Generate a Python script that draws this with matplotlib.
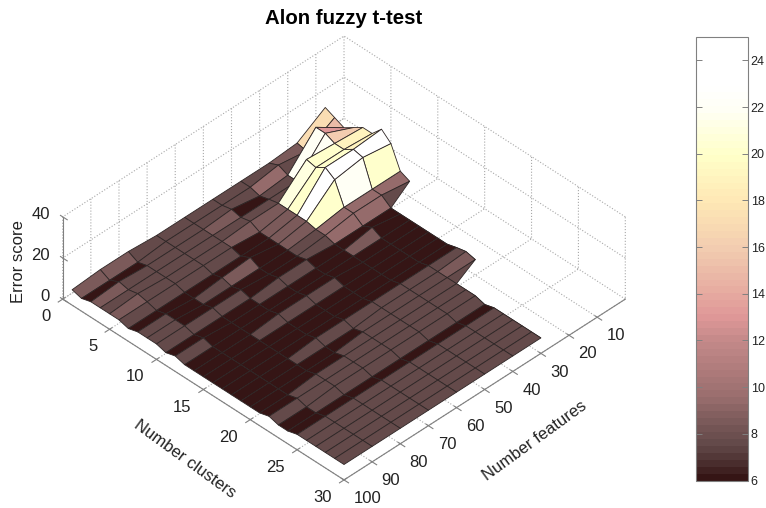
import numpy as np
import matplotlib
matplotlib.use("Agg")
import matplotlib.pyplot as plt
from matplotlib.colors import LinearSegmentedColormap, Normalize
from matplotlib.cm import ScalarMappable
from mpl_toolkits.mplot3d import proj3d

plt.rcParams["font.family"] = ["Liberation Sans", "DejaVu Sans"]
plt.rcParams["grid.linestyle"] = ":"
plt.rcParams["grid.color"] = "#a8a8a8"
plt.rcParams["grid.linewidth"] = 0.8

nan = np.nan
a, b, d, e = 6.2, 7.5, 8.5, 9.5  # the four low levels seen on the surface

clusters = np.arange(1, 31)
features = np.arange(10, 101, 10)

# error score per number of clusters, one list per number of features
err_f10 = [17, 15, 13, 16, 19, 19, 24, 20, e, b] + [nan] * 20
err_f20 = [d, b, 22, 22, 20, 20, 23, 22, e, e, a, a, a, a, a, a, a, b, d, b] + [nan] * 10
err_f30 = [b, e, b, b, 21, 20, 23, 20, e, e, a, d, a, a, a, a, a, b, b, b, b, b, b, a, b, b, b, b, b, b]
err_f40 = [b, b, a, b, d, d, d, d, b, b, a, a, a, a, a, a, a, b, b, b, b, b, b, a, b, b, b, b, b, b]
err_f50 = [b, b, d, b, d, a, a, a, a, a, b, a, a, b, a, a, a, b, b, b, b, b, b, a, b, b, b, b, b, b]
err_f60 = [b, b, b, b, b, b, a, d, a, a, b, a, a, b, a, a, a, b, a, b, b, b, b, a, b, b, b, b, b, b]
err_f70 = [b, b, b, b, b, b, a, b, a, b, a, a, a, b, a, a, a, b, a, a, b, b, b, a, b, b, b, b, b, b]
err_f80 = [d, a, b, b, b, b, a, a, a, b, a, a, a, a, a, a, a, a, a, a, b, b, b, a, b, b, b, b, b, b]
err_f90 = [d, a, d, b, d, b, a, b, b, b, a, b, a, a, a, a, a, a, a, a, a, b, a, a, b, b, b, b, b, b]
err_f100 = [b, a, b, b, b, b, a, b, b, b, a, b, a, a, a, a, a, a, a, a, a, b, a, a, b, b, b, b, b, b]

x_ticks = [0, 5, 10, 15, 20, 25, 30]
y_ticks = [10, 20, 30, 40, 50, 60, 70, 80, 90, 100]
z_ticks = [0, 20, 40]
cbar_ticks = [6, 8, 10, 12, 14, 16, 18, 20, 22, 24]

stop_values = [6, 7, 7.5, 8.5, 9.5, 12, 13, 14, 16, 18, 20, 22, 23, 25]
stop_colors = ["#351515", "#563c3c", "#644a4a", "#7d5b5b", "#9a6e6e", "#c58a8a", "#e09898",
               "#e6aaa0", "#f2cdb0", "#ffe8b5", "#ffffc8", "#fffff5", "#ffffff", "#ffffff"]

Z = np.array([err_f10, err_f20, err_f30, err_f40, err_f50,
              err_f60, err_f70, err_f80, err_f90, err_f100], dtype=float)
X, Y = np.meshgrid(clusters, features)

norm = Normalize(6, 25)
cmap = LinearSegmentedColormap.from_list(
    "pink_scan", list(zip(norm(stop_values), stop_colors)), N=64)

W, H = 766, 508
fig = plt.figure(figsize=(W / 100, H / 100), dpi=100)

side = 556
ax = fig.add_axes([58.5 / W, -35.5 / H, side / W, side / H], projection="3d")
ax.set_proj_type("ortho")
ax.view_init(elev=40, azim=-45)
ax.set_box_aspect((1, 1, 0.27))
ax.patch.set_alpha(0)

surf = ax.plot_surface(X, Y, Z, facecolors=cmap(norm(np.nan_to_num(Z, nan=6))),
                       shade=False, rstride=1, cstride=1)
surf.set_edgecolor("#2e2626")
surf.set_linewidth(0.6)

ax.set_xlim(0, 30)
ax.set_ylim(100, 0)
ax.set_zlim(0, 40)
ax.set_xticks(x_ticks)
ax.set_yticks(y_ticks)
ax.set_zticks(z_ticks)
ax.set_xticklabels([])
ax.set_yticklabels([])
ax.set_zticklabels([])
ax.tick_params(colors="#808080")

for axis in (ax.xaxis, ax.yaxis, ax.zaxis):
    axis.set_pane_color((1, 1, 1, 0))
    axis.pane.set_edgecolor("none")
    axis.line.set_color("#808080")
    axis.line.set_linewidth(0.8)
ax.zaxis.set_ticks_position("upper")


def tick_label(x, y, z, text, ha):
    # the 3d axis can only shift its labels along the tick direction
    xp, yp, _ = proj3d.proj_transform(x, y, z, ax.get_proj())
    ax.text2D(xp, yp, text, transform=ax.transData, fontsize=12, color="#222222",
              ha=ha, va="center")


for c in x_ticks:
    tick_label(c + 0.8, 107, 0, str(c), "right")
for f in y_ticks:
    tick_label(32.05, f + 3.5, 0, str(f), "left")
for v in z_ticks:
    tick_label(-0.9, 101.5, v, str(v), "right")

fig.text(185 / W, 1 - 459 / H, "Number clusters", fontsize=12, color="#222222", rotation=-36,
         ha="center", va="center")
fig.text(535 / W, 1 - 441 / H, "Number features", fontsize=12, color="#222222", rotation=36,
         ha="center", va="center")
fig.text(19 / W, 1 - 262 / H, "Error score", fontsize=12, color="#222222", rotation=90,
         ha="center", va="center")
fig.text(344 / W, 1 - 18.5 / H, "Alon fuzzy t-test", fontsize=14.7, fontweight="bold",
         ha="center", va="center")

cax = fig.add_axes([695.5 / W, 1 - 480.5 / H, 52.5 / W, 443.5 / H])
cbar = fig.colorbar(ScalarMappable(norm=norm, cmap=cmap), cax=cax, ticks=cbar_ticks)
cbar.outline.set_edgecolor("#808080")
cbar.outline.set_linewidth(0.8)
cax.tick_params(direction="in", length=4, width=0.7, color="#808080", left=True, right=True,
                labelsize=9, labelcolor="#222222", pad=2)

fig.savefig("out.png", dpi=100)
